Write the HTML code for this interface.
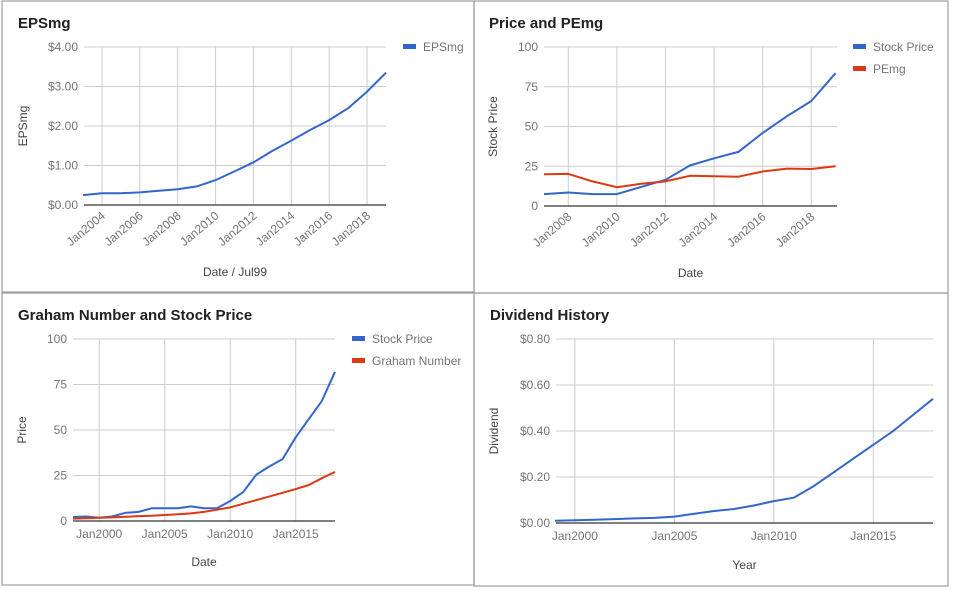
<!DOCTYPE html>
<html><head><meta charset="utf-8"><style>
body{margin:0;background:#fff;width:953px;height:590px;overflow:hidden;font-family:"Liberation Sans",Arial,sans-serif}
svg{position:absolute;left:0;top:0}
</style></head><body>
<svg id="s" width="953" height="590" xmlns="http://www.w3.org/2000/svg">
<rect x="0" y="0" width="953" height="590" fill="#fff"/>
<g stroke="#9e9e9e" stroke-width="1.2" fill="none">
<rect x="2" y="1" width="472" height="291"/>
<rect x="474" y="1" width="474" height="292"/>
<rect x="2" y="293" width="472" height="292"/>
<rect x="474" y="293" width="474" height="293"/>
</g>
</svg>
<script>
// Chart 1: EPSmg
const epsYears=[2003,2004,2005,2006,2007,2008,2009,2010,2011,2012,2013,2014,2015,2016,2017,2018,2019];
const epsValues=[0.25,0.30,0.30,0.32,0.36,0.40,0.47,0.63,0.85,1.08,1.37,1.63,1.90,2.15,2.45,2.87,3.35];
const epsYTicks=[0,1,2,3,4];
const epsYLabels=["$0.00","$1.00","$2.00","$3.00","$4.00"];
const epsXTicks=[2004,2006,2008,2010,2012,2014,2016,2018];
// Chart 2: Price and PEmg
const pYears=[2007,2008,2009,2010,2011,2012,2013,2014,2015,2016,2017,2018,2019];
const pStock=[7.5,8.5,7.5,7.5,12,16.5,25.5,30,34,46,56.5,66,83.5];
const pPE=[20,20.2,15.5,11.8,14,15.5,19,18.7,18.4,21.7,23.5,23.3,25];
const pYTicks=[0,25,50,75,100];
const pXTicks=[2008,2010,2012,2014,2016,2018];
// Chart 3: Graham Number and Stock Price
const gYears=[1998,1999,2000,2001,2002,2003,2004,2005,2006,2007,2008,2009,2010,2011,2012,2013,2014,2015,2016,2017,2018];
const gStock=[2.2,2.5,1.8,2.5,4.5,5,7,7,7,8,7,7,11,16,25.5,30,34,46,56,66,82];
const gGraham=[1.3,1.5,1.8,2,2.3,2.7,2.9,3.3,3.7,4.2,5,6.2,7.5,9.5,11.5,13.5,15.5,17.5,19.8,23.5,27];
const gYTicks=[0,25,50,75,100];
const gXTicks=[2000,2005,2010,2015];
// Chart 4: Dividend History
const dYears=[1999,2000,2001,2002,2003,2004,2005,2006,2007,2008,2009,2010,2011,2012,2013,2014,2015,2016,2017,2018];
const dValues=[0.01,0.012,0.014,0.017,0.02,0.022,0.028,0.04,0.052,0.061,0.076,0.095,0.11,0.16,0.22,0.28,0.34,0.40,0.47,0.54];
const dYTicks=[0,0.2,0.4,0.6,0.8];
const dYLabels=["$0.00","$0.20","$0.40","$0.60","$0.80"];
const dXTicks=[2000,2005,2010,2015];

const NS="http://www.w3.org/2000/svg";
const svg=document.getElementById('s');
function mk(tag,attrs,parent,text){const e=document.createElementNS(NS,tag);for(const k in attrs)e.setAttribute(k,attrs[k]);if(text!==undefined)e.textContent=text;(parent||svg).appendChild(e);return e;}

function chart(c){
  const g=mk('g',{});
  
  
  const xs=v=>c.L+(v-c.x0)/(c.x1-c.x0)*(c.R-c.L);
  const ys=v=>c.B-(v-c.y0)/(c.y1-c.y0)*(c.B-c.T);
  const t=mk('text',{x:c.tx,y:c.ty,'font-size':15,'font-weight':'bold',fill:'#212121'},g,c.title);
  
  
  c.xTicks.forEach(v=>{
    const l=mk('line',{x1:xs(v),x2:xs(v),y1:c.T,y2:c.B,stroke:'#cccccc','stroke-width':1},g);
    
    
  });
  c.yTicks.forEach((v,i)=>{
    const y=ys(v);
    if(v!==c.y0){
      const l=mk('line',{x1:c.L,x2:c.R,y1:y,y2:y,stroke:'#cccccc','stroke-width':1},g);
      
      
    }
    const lb=mk('text',{x:c.L-6,y:y+4,'font-size':12,fill:'#757575','text-anchor':'end'},g,c.yLabels?c.yLabels[i]:String(v));
    
    
  });
  const base=mk('line',{x1:c.L,x2:c.R,y1:c.B,y2:c.B,stroke:'#333','stroke-width':1.2},g);
  
  
  c.xTicks.forEach(v=>{
    let lb;
    if(c.rot){
      const x=xs(v)+4,y=c.B+12;
      lb=mk('text',{x:x,y:y,'font-size':12,fill:'#757575','text-anchor':'end',transform:`rotate(-40 ${x} ${y})`},g,'Jan'+v);
    }else{
      lb=mk('text',{x:xs(v),y:c.B+17,'font-size':12,fill:'#757575','text-anchor':'middle'},g,'Jan'+v);
    }
    
    
  });
  const xt=mk('text',{x:(c.L+c.R)/2,y:c.xty,'font-size':12,fill:'#444','text-anchor':'middle'},g,c.xTitle);
  
  
  const ym=(c.T+c.B)/2;
  const yt=mk('text',{x:c.ytx,y:ym,'font-size':12,fill:'#444','text-anchor':'middle',transform:`rotate(-90 ${c.ytx} ${ym})`},g,c.yTitle);
  
  
  c.series.forEach((s,si)=>{
    const pts=c.xs.map((x,i)=>xs(x).toFixed(1)+','+ys(s.v[i]).toFixed(1)).join(' ');
    const p=mk('polyline',{points:pts,fill:'none',stroke:s.color,'stroke-width':2,'stroke-linejoin':'round'},g);
    
    
    if(c.legX){
      const ly=c.legY+si*22;
      const sw=mk('rect',{x:c.legX,y:ly-3,width:13,height:5,fill:s.color},g);
      
      
      const lt=mk('text',{x:c.legX+20,y:ly+4,'font-size':12,fill:'#757575'},g,s.label);
      
      
    }
  });
}
const BLUE='#3366cc',RED='#dc3912';
chart({name:'epsmg-chart',title:'EPSmg',tx:18,ty:28,L:84,R:386,T:47,B:205,x0:2003.05,x1:2019,y0:0,y1:4,
  yTicks:epsYTicks,yLabels:epsYLabels,xTicks:epsXTicks,rot:true,xTitle:'Date / Jul99',xty:276,yTitle:'EPSmg',ytx:27,
  xs:epsYears,series:[{key:'epsmg',label:'EPSmg',v:epsValues,color:BLUE}],legX:403,legY:47});
chart({name:'price-pemg-chart',title:'Price and PEmg',tx:489,ty:28,L:544,R:837,T:47,B:206,x0:2007,x1:2019.06,y0:0,y1:100,
  yTicks:pYTicks,xTicks:pXTicks,rot:true,xTitle:'Date',xty:277,yTitle:'Stock Price',ytx:497,
  xs:pYears,series:[{key:'stock-price',label:'Stock Price',v:pStock,color:BLUE},{key:'pemg',label:'PEmg',v:pPE,color:RED}],legX:853,legY:47});
chart({name:'graham-chart',title:'Graham Number and Stock Price',tx:18,ty:320,L:73,R:335,T:339,B:521,x0:1998,x1:2018,y0:0,y1:100,
  yTicks:gYTicks,xTicks:gXTicks,rot:false,xTitle:'Date',xty:566,yTitle:'Price',ytx:26,
  xs:gYears,series:[{key:'stock-price',label:'Stock Price',v:gStock,color:BLUE},{key:'graham-number',label:'Graham Number',v:gGraham,color:RED}],legX:352,legY:339});
chart({name:'dividend-chart',title:'Dividend History',tx:490,ty:320,L:556,R:933,T:339,B:523,x0:1999.05,x1:2018,y0:0,y1:0.8,
  yTicks:dYTicks,yLabels:dYLabels,xTicks:dXTicks,rot:false,xTitle:'Year',xty:569,yTitle:'Dividend',ytx:498,
  xs:dYears,series:[{key:'dividend',label:'Dividend',v:dValues,color:BLUE}]});
</script>
</body></html>
